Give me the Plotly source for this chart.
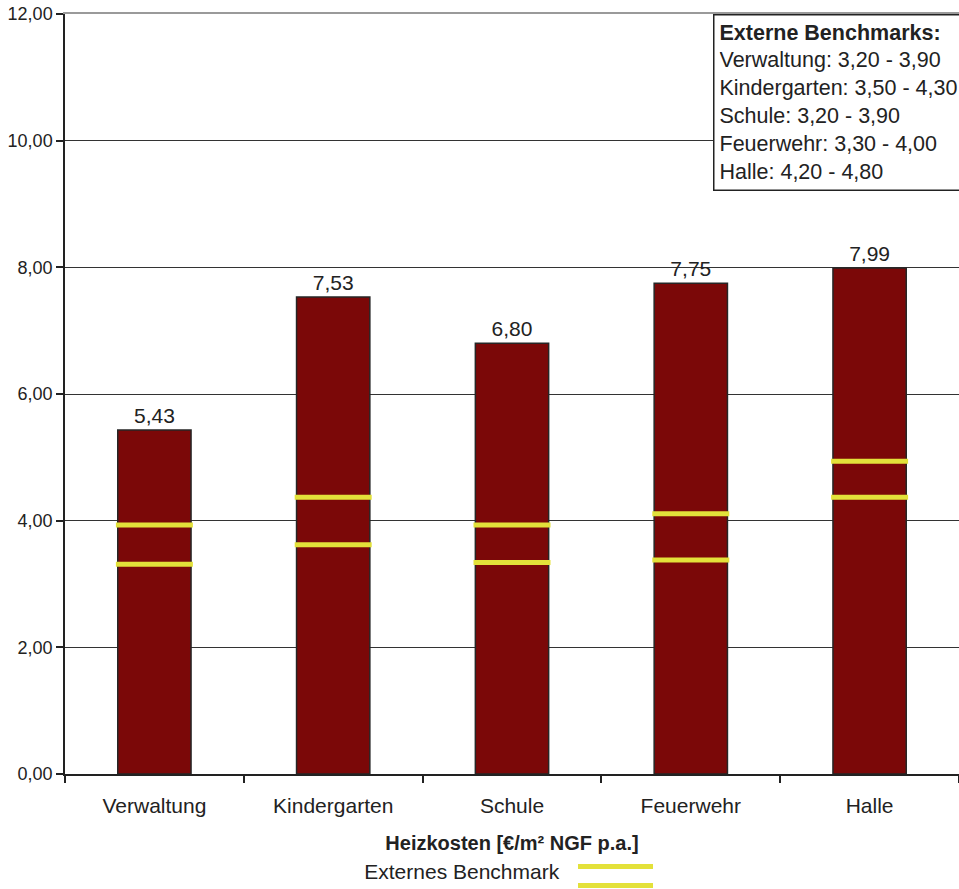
import plotly.graph_objects as go

categories = ["Verwaltung", "Kindergarten", "Schule", "Feuerwehr", "Halle"]
heizkosten = [5.43, 7.53, 6.80, 7.75, 7.99]
benchmark_lower = [3.31, 3.62, 3.34, 3.38, 4.37]
benchmark_upper = [3.93, 4.37, 3.93, 4.11, 4.94]
y_ticks = [0, 2, 4, 6, 8, 10, 12]
box_title = "Externe Benchmarks:"
box_lines = [
    "Verwaltung: 3,20 - 3,90",
    "Kindergarten: 3,50 - 4,30",
    "Schule: 3,20 - 3,90",
    "Feuerwehr: 3,30 - 4,00",
    "Halle: 4,20 - 4,80",
]

FONT = "Liberation Sans, Arial, sans-serif"
BAR = "#7b0808"
YEL = "#e3e13a"
TXT = "#222222"

fig = go.Figure()
fig.add_trace(go.Bar(
    x=categories, y=heizkosten,
    marker=dict(color=BAR, line=dict(color="#262626", width=1.5)),
    texttemplate="%{y:.2f}", textposition="outside",
    textfont=dict(family=FONT, size=21, color=TXT),
    cliponaxis=False, showlegend=False, hoverinfo="x+y",
))
for vals in (benchmark_upper, benchmark_lower):
    fig.add_trace(go.Scatter(
        x=categories, y=vals, mode="markers",
        marker=dict(symbol="line-ew", size=55, color=YEL,
                    line=dict(width=5, color=YEL)),
        showlegend=False, cliponaxis=False,
    ))
# legend entries (two stacked lines)
for _ in range(2):
    fig.add_trace(go.Scatter(
        x=[None], y=[None], mode="lines", name=" ",
        line=dict(color=YEL, width=5), showlegend=True,
    ))

# top border line (gray)
fig.add_trace(go.Scatter(x=[None], y=[None], xaxis="x2", showlegend=False))

fig.update_layout(
    width=959, height=900,
    margin=dict(l=65, r=0, t=14, b=122),
    paper_bgcolor="white", plot_bgcolor="white",
    font=dict(family=FONT, size=21, color=TXT),
    separators=",.",
    bargap=0.59,
    xaxis=dict(
        type="category", range=[-0.5, 4.5], automargin=False,
        showgrid=False, showline=True, linecolor="#222", linewidth=1.5,
        ticks="outside", tickson="boundaries", ticklen=7, tickcolor="#222",
        tickwidth=1.5, ticklabelstandoff=12,
        tickfont=dict(family=FONT, size=21, color=TXT),
        title=dict(text="<b>Heizkosten [€/m² NGF p.a.]</b>",
                   font=dict(family=FONT, size=20, color=TXT), standoff=20),
    ),
    xaxis2=dict(
        overlaying="x", side="top", showline=True, linecolor="#9a9a9a",
        linewidth=2, showticklabels=False, ticks="", showgrid=False,
        range=[0, 1], zeroline=False, automargin=False,
    ),
    yaxis=dict(
        range=[0, 12], tickvals=y_ticks, tickformat=".2f",
        ticklabeloverflow="allow", automargin=False,
        showgrid=True, gridcolor="#333333", gridwidth=1,
        showline=True, linecolor="#222", linewidth=1.5,
        ticks="outside", ticklen=7, tickcolor="#222", tickwidth=1.5,
        tickfont=dict(family=FONT, size=18, color=TXT),
        zeroline=False,
    ),
    legend=dict(
        orientation="v", x=0.3325, xanchor="left", y=-0.1025, yanchor="top",
        title=dict(text="Externes Benchmark&nbsp;", side="left",
                   font=dict(family=FONT, size=21, color=TXT)),
        font=dict(size=8), itemwidth=75, tracegroupgap=0,
        bgcolor="rgba(0,0,0,0)",
    ),
    annotations=[dict(
        xref="paper", yref="paper", x=0.7248, y=1.0,
        xanchor="left", yanchor="top", align="left",
        text="<b>" + box_title + "</b><br>" + "<br>".join(box_lines),
        font=dict(family=FONT, size=21.5, color=TXT),
        bgcolor="white", bordercolor="#222", borderwidth=1.5, borderpad=5,
        showarrow=False, width=300,
    )],
)

fig.write_html(
    "out.html",
    config={"displayModeBar": False},
    post_script="document.body.style.margin='0px';"
                "document.body.style.overflow='hidden';",
)
